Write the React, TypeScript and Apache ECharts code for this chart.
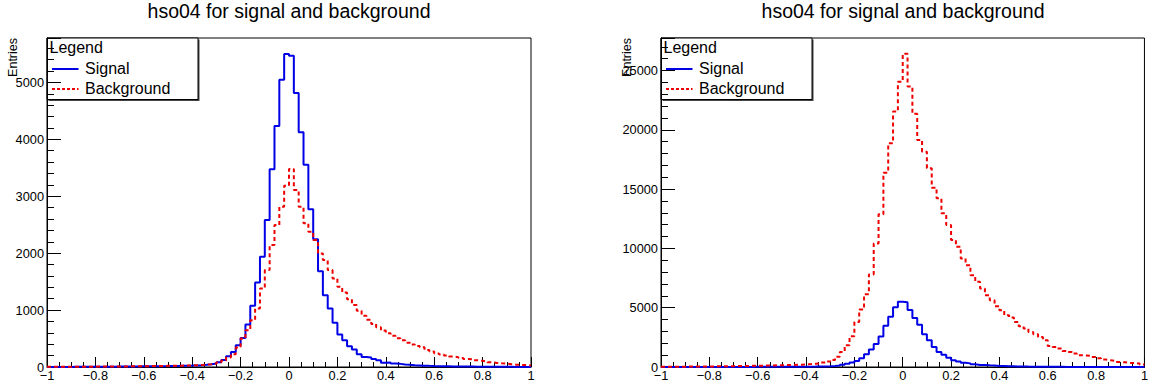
import React, { useEffect, useRef } from "react";
import * as echarts from "echarts";

// ---- data (100 bins from -1 to 1) ----
const X_MIN = -1;
const X_MAX = 1;
const X_TICK_STEP = 0.2;

const TITLE = "hso04 for signal and background";
const Y_NAME = "Entries";
const LEGEND_HEADER = "Legend";
const LEGEND_LABELS = ["Signal", "Background"];

const SIGNAL = [
  1, 1, 2, 2, 2, 3, 3, 3, 4, 4,
  5, 5, 6, 6, 7, 8, 8, 9, 10, 11,
  12, 13, 14, 15, 16, 18, 19, 21, 23, 25,
  28, 32, 38, 48, 60, 85, 125, 190, 264, 382,
  510, 746, 1074, 1485, 1936, 2582, 3474, 4236, 5046, 5498,
  5468, 4812, 4125, 3555, 2770, 2245, 1680, 1262, 1028, 778,
  572, 470, 364, 306, 224, 176, 165, 141, 118, 75,
  80, 60, 55, 45, 38, 32, 28, 24, 20, 17,
  15, 13, 12, 10, 9, 8, 8, 7, 6, 5,
  5, 4, 4, 3, 3, 3, 2, 2, 2, 1,
];

const BACKGROUND_LEFT = [
  3, 3, 3, 4, 4, 4, 5, 5, 6, 6,
  7, 7, 8, 9, 9, 10, 11, 12, 13, 14,
  15, 16, 17, 18, 20, 21, 23, 24, 26, 29,
  32, 36, 41, 49, 61, 79, 113, 167, 225, 341,
  500, 646, 822, 1028, 1380, 1702, 2142, 2494, 2816, 3186,
  3480, 3110, 2816, 2524, 2376, 2230, 1996, 1878, 1702, 1556,
  1408, 1310, 1190, 1090, 990, 900, 830, 755, 700, 640,
  595, 548, 505, 470, 428, 396, 370, 345, 300, 272,
  236, 218, 202, 184, 172, 157, 142, 134, 120, 108,
  96, 83, 72, 64, 58, 50, 40, 37, 34, 26,
];

const BACKGROUND_RIGHT = [
  20, 22, 25, 28, 30, 33, 36, 40, 44, 48,
  52, 56, 60, 66, 72, 78, 85, 92, 100, 108,
  115, 122, 130, 140, 150, 160, 172, 185, 200, 220,
  245, 275, 310, 370, 460, 600, 860, 1267, 1833, 2593,
  3800, 4848, 6140, 7804, 10422, 12871, 16385, 18868, 21537, 24046,
  26410, 23649, 21343, 19147, 18159, 16757, 15118, 14223, 12956, 11968,
  10701, 10135, 9155, 8589, 7745, 7179, 6622, 6056, 5633, 5127,
  4789, 4367, 4172, 3800, 3437, 3243, 2956, 2762, 2534, 2255,
  1774, 1689, 1554, 1351, 1267, 1132, 988, 963, 929, 845,
  735, 625, 566, 507, 422, 397, 338, 338, 287, 203,
];

const Y_MAX = [5780, 27740];
const Y_MAJOR = [1000, 5000];
const Y_MINOR = [200, 1000];

// ---- styling ----
const FONT = "Liberation Sans, Arial, Helvetica, sans-serif";
const BLUE = "#0000e6";
const RED = "#ee0000";
const PANELS = [
  { left: 47, top: 38, width: 484, height: 329 },
  { left: 661, top: 38, width: 484, height: 329 },
];

function histPoints(values: number[]): number[][] {
  const w = (X_MAX - X_MIN) / values.length;
  const pts = values.map((v, i) => [X_MIN + i * w, v]);
  pts.push([X_MAX, values[values.length - 1]]);
  return pts;
}

function fmtX(v: number): string {
  const r = Math.round(v * 10) / 10;
  if (r < 0) return "\u2212" + String(-r);
  return String(Math.abs(r));
}

export default function App() {
  const ref = useRef<HTMLDivElement>(null);

  useEffect(() => {
    if (!ref.current) return;
    const chart = echarts.init(ref.current, undefined, { renderer: "svg" });

    const grids: any[] = [];
    const xAxes: any[] = [];
    const yAxes: any[] = [];
    const series: any[] = [];
    const graphics: any[] = [];
    const bgs = [BACKGROUND_LEFT, BACKGROUND_RIGHT];

    PANELS.forEach((p, k) => {
      grids.push({
        left: p.left,
        top: p.top,
        width: p.width,
        height: p.height,
        show: true,
        borderColor: "#000",
        borderWidth: 1,
        backgroundColor: "transparent",
        containLabel: false,
      });
      xAxes.push({
        type: "value",
        gridIndex: k,
        min: X_MIN,
        max: X_MAX,
        interval: X_TICK_STEP,
        axisLine: { show: true, onZero: false, lineStyle: { color: "#000", width: 1 } },
        axisTick: { show: true, inside: true, length: 10, lineStyle: { color: "#000", width: 1 } },
        minorTick: { show: true, splitNumber: 4, length: 5, lineStyle: { color: "#000", width: 1 } },
        splitLine: { show: false },
        minorSplitLine: { show: false },
        axisLabel: {
          margin: 2,
          fontSize: 12.8,
          color: "#000",
          fontFamily: FONT,
          formatter: fmtX,
        },
      });
      const major = Y_MAJOR[k];
      yAxes.push({
        type: "value",
        gridIndex: k,
        position: "left",
        min: 0,
        max: Y_MAX[k],
        interval: major,
        axisLine: { show: true, onZero: false, lineStyle: { color: "#000", width: 1 } },
        axisTick: { show: true, inside: true, length: 14, lineStyle: { color: "#000", width: 1 } },
        splitLine: { show: false },
        axisLabel: {
          margin: 3,
          fontSize: 12.8,
          color: "#000",
          fontFamily: FONT,
          formatter: (v: number) => (Math.abs(v % major) < 1e-6 ? String(Math.round(v)) : ""),
        },
      });
      yAxes.push({
        type: "value",
        gridIndex: k,
        position: "left",
        offset: 0,
        min: 0,
        max: Y_MAX[k],
        interval: Y_MINOR[k],
        axisLine: { show: false, onZero: false },
        axisTick: { show: true, inside: true, length: 7, lineStyle: { color: "#000", width: 1 } },
        axisLabel: { show: false },
        splitLine: { show: false },
      });

      series.push({
        name: LEGEND_LABELS[0],
        type: "line",
        xAxisIndex: k,
        yAxisIndex: k * 2,
        step: "end",
        showSymbol: false,
        symbol: "none",
        data: histPoints(SIGNAL),
        lineStyle: { color: BLUE, width: 2 },
        z: 3,
      });
      series.push({
        name: LEGEND_LABELS[1],
        type: "line",
        xAxisIndex: k,
        yAxisIndex: k * 2,
        step: "end",
        showSymbol: false,
        symbol: "none",
        data: histPoints(bgs[k]),
        lineStyle: { color: RED, width: 2, type: [4, 3] },
        z: 4,
      });

      const cx = p.left + p.width / 2;
      graphics.push({
        type: "text",
        x: cx,
        y: 10.5,
        z: 100,
        style: { text: TITLE, fontSize: 19.5, fontFamily: FONT, fill: "#000", align: "center", verticalAlign: "middle" },
      });
      graphics.push({
        type: "text",
        x: p.left - 34,
        y: p.top,
        rotation: Math.PI / 2,
        z: 100,
        style: { text: Y_NAME, fontSize: 12.5, fontFamily: FONT, fill: "#000", align: "right", verticalAlign: "middle" },
      });
      const x0 = p.left;
      graphics.push({
        type: "group",
        z: 100,
        children: [
          { type: "rect", shape: { x: x0 + 1.5, y: p.top + 1.5, width: 151, height: 61.5 }, style: { fill: "#444", stroke: null } },
          { type: "rect", shape: { x: x0, y: p.top, width: 151, height: 61.5 }, style: { fill: "#fff", stroke: "#000", lineWidth: 1 } },
          {
            type: "text",
            x: x0 + 2.5,
            y: 47.8,
            style: { text: LEGEND_HEADER, fontSize: 16, fontFamily: FONT, fill: "#000", align: "left", verticalAlign: "middle" },
          },
          { type: "line", shape: { x1: x0 + 5, y1: 69, x2: x0 + 31.5, y2: 69 }, style: { stroke: BLUE, lineWidth: 2 } },
          {
            type: "text",
            x: x0 + 38,
            y: 68.5,
            style: { text: LEGEND_LABELS[0], fontSize: 16, fontFamily: FONT, fill: "#000", align: "left", verticalAlign: "middle" },
          },
          { type: "line", shape: { x1: x0 + 5, y1: 89, x2: x0 + 31.5, y2: 89 }, style: { stroke: RED, lineWidth: 2, lineDash: [3, 2] } },
          {
            type: "text",
            x: x0 + 38,
            y: 88.8,
            style: { text: LEGEND_LABELS[1], fontSize: 16, fontFamily: FONT, fill: "#000", align: "left", verticalAlign: "middle" },
          },
        ],
      });
    });

    chart.setOption({
      animation: false,
      backgroundColor: "#fff",
      textStyle: { fontFamily: FONT },
      grid: grids,
      xAxis: xAxes,
      yAxis: yAxes,
      series,
      graphic: graphics,
    });

    return () => chart.dispose();
  }, []);

  return (
    <div
      ref={ref}
      style={{ position: "absolute", left: 0, top: 0, width: 1151, height: 390, background: "#fff" }}
    />
  );
}
